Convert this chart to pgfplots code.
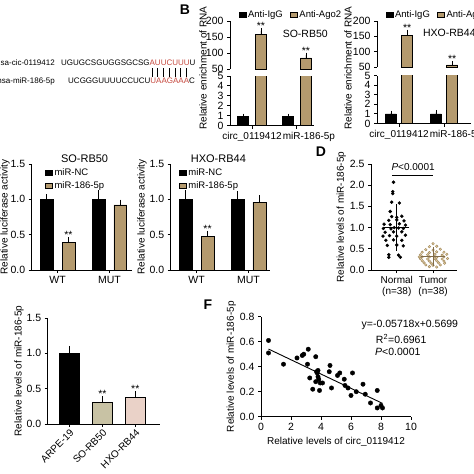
\documentclass[border=0pt]{standalone}
\usepackage{fontspec}
\setmainfont{Liberation Sans}
\usepackage{pgfplots}
\pgfplotsset{compat=1.18}
\definecolor{tanbar}{RGB}{180,154,110}
\definecolor{seqred}{RGB}{198,72,62}
\definecolor{khakibar}{RGB}{200,194,164}
\definecolor{pinkbar}{RGB}{234,210,200}
\definecolor{tumorfill}{RGB}{226,206,160}
\definecolor{tumordraw}{RGB}{160,134,90}
\newcommand{\fs}[1]{\fontsize{#1}{#1}\selectfont}
\pgfplotsset{
  base/.style={
    scale only axis, anchor=south west,
    axis x line*=bottom, axis y line*=left,
    axis line style={line width=0.9pt,-},
    every outer x axis line/.append style={-},
    every outer y axis line/.append style={-},
    every tick/.style={black, line width=0.9pt},
    tick align=outside, major tick length=3pt,
    tick label style={font=\fs{10.5}},
    label style={font=\fs{10}},
    /pgf/number format/assume math mode=true,
    clip mode=individual,
  },
  onedec/.style={yticklabel style={/pgf/number format/.cd, fixed, fixed zerofill, precision=1}},
  mybar/.style={ybar, bar shift=0pt, draw=black, line width=0.6pt},
  myerr/.style={error bars/.cd, y dir=plus, y explicit,
     error bar style={line width=0.8pt, black},
     error mark options={line width=0.8pt, mark size=2.5pt, black}},
  sqlegend/.style={legend image code/.code={\draw[##1] (0pt,-2.5pt) rectangle (7pt,2.5pt);}},
}
\newcommand{\stars}[2]{\node[anchor=base, font=\fs{10.5}, inner sep=0pt, yshift=1pt] at (axis cs:#1,#2) {**};}
\begin{document}
\begin{tikzpicture}
\useasboundingbox (0,0) rectangle (474pt,-474pt);
\clip (0,0) rectangle (474pt,-474pt);
\fill[white] (0,0) rectangle (474pt,-474pt);

% ---------------- Panel A ----------------
\node[anchor=east, font=\fs{8}, inner sep=0pt] at (55pt,-62.7pt) {hsa-cic-0119412};
\node[anchor=east, font=\fs{8}, inner sep=0pt] at (55pt,-81pt) {hsa-miR-186-5p};
\node[anchor=west, font=\fs{8}, inner sep=0pt] at (61pt,-62.7pt) {UGUGCSGUGGSGCSG\textcolor{seqred}{AUUCUUU}U};
\node[anchor=west, font=\fs{8}, inner sep=0pt] at (68pt,-81pt) {UCGGGUUUUCCUCU\textcolor{seqred}{UAAGAAA}C};
\foreach \i in {0,...,6} \draw[line width=0.6pt] ({152pt+\i*5.7pt},-68pt) -- ({152pt+\i*5.7pt},-77pt);

% panel letters
\node[font=\bfseries\fs{14}] at (185pt,-10pt) {B};
\node[font=\bfseries\fs{14}] at (321pt,-152pt) {D};
\node[font=\bfseries\fs{14}] at (208pt,-305pt) {F};

% ---------------- Panel B left ----------------
\node[rotate=90, font=\fs{10}] at (203pt,-68pt) {Relative enrichment of RNA};
\begin{axis}[base, sqlegend, at={(230pt,-69pt)}, width=84pt, height=48pt,
  xmin=-0.49, xmax=1.38, ymin=50, ymax=200, ytick={50,100,150,200},
  axis x line=none,
  legend style={draw=none, fill=none, legend columns=2, font=\fs{9.5}, at={(0.1,1.13)}, anchor=west, inner sep=0pt,
    /tikz/every even column/.append style={column sep=5pt}}]
\addlegendimage{fill=black, draw=black}
\addlegendentry{Anti-IgG}
\addplot[mybar, fill=tanbar, bar width=0.245, myerr] coordinates {(0.2,157) +- (0,12) (1.2,85) +- (0,8)};
\addlegendentry{Anti-Ago2}
\stars{0.2}{169}
\stars{1.2}{93}
\node[anchor=west, font=\fs{10.5}, inner sep=0pt] at (axis cs:0.68,160) {SO-RB50};
\end{axis}
\begin{axis}[base, at={(230pt,-125.5pt)}, width=84pt, height=49.5pt,
  xmin=-0.49, xmax=1.38, ymin=0, ymax=5, ytick={0,1,2,3,4,5}, xtick={0,1},
  xticklabel style={font=\fs{10}},
  xticklabels={circ\_0119412,\hspace*{24pt}miR-186-5p}]
\addplot[mybar, fill=black, bar width=0.245, myerr] coordinates {(-0.2,0.9) +- (0,0.05) (0.8,0.9) +- (0,0.05)};
\addplot[mybar, fill=tanbar, bar width=0.245] coordinates {(0.2,157) (1.2,85)};
\end{axis}

% ---------------- Panel B right ----------------
\node[rotate=90, font=\fs{10}] at (348pt,-68pt) {Relative enrichment of RNA};
\begin{axis}[base, sqlegend, at={(377pt,-67pt)}, width=94pt, height=46pt,
  xmin=-0.49, xmax=1.6, ymin=50, ymax=200, ytick={50,100,150,200},
  axis x line=none,
  legend style={draw=none, fill=none, legend columns=2, font=\fs{9.5}, at={(0.09,1.13)}, anchor=west, inner sep=0pt,
    /tikz/every even column/.append style={column sep=5pt}}]
\addlegendimage{fill=black, draw=black}
\addlegendentry{Anti-IgG}
\addplot[mybar, fill=tanbar, bar width=0.245, myerr] coordinates {(0.18,152) +- (0,12) (1.18,57) +- (0,4)};
\addlegendentry{Anti-Ago2}
\stars{0.18}{164}
\stars{1.18}{61}
\node[anchor=west, font=\fs{10.5}, inner sep=0pt] at (axis cs:0.53,160) {HXO-RB44};
\end{axis}
\begin{axis}[base, at={(377pt,-123.5pt)}, width=94pt, height=48pt,
  xmin=-0.49, xmax=1.6, ymin=0, ymax=5, ytick={0,1,2,3,4,5}, xtick={0,1},
  xticklabel style={font=\fs{10}},
  xticklabels={circ\_0119412,\hspace*{24pt}miR-186-5p}]
\addplot[mybar, fill=black, bar width=0.245, myerr] coordinates {(-0.18,1.0) +- (0,0.08) (0.82,1.0) +- (0,0.15)};
\addplot[mybar, fill=tanbar, bar width=0.245] coordinates {(0.18,152) (1.18,57)};
\end{axis}

% ---------------- Panel C left ----------------
\begin{axis}[base, onedec, sqlegend, at={(31.7pt,-270pt)}, width=100pt, height=106pt,
  xmin=-0.5, xmax=1.43, ymin=0, ymax=1.5, ytick={0,0.5,1,1.5}, xtick={0,1}, xticklabels={WT,MUT},
  ylabel={Relative luciferase activity}, ylabel shift=-6pt,
  legend style={draw=none, fill=none, font=\fs{9.5}, at={(0.13,0.98)}, anchor=north west, inner sep=0pt,
    legend cell align=left, row sep=1pt}]
\addplot[mybar, fill=black, bar width=0.25, myerr] coordinates {(-0.21,1.0) +- (0,0.04) (0.79,1.0) +- (0,0.09)};
\addlegendentry{miR-NC}
\addplot[mybar, fill=tanbar, bar width=0.25, myerr] coordinates {(0.21,0.39) +- (0,0.04) (1.21,0.92) +- (0,0.04)};
\addlegendentry{miR-186-5p}
\stars{0.21}{0.43}
\node[font=\fs{11}] at (axis cs:0.52,1.58) {SO-RB50};
\end{axis}

% ---------------- Panel C right ----------------
\begin{axis}[base, onedec, sqlegend, at={(170.7pt,-270pt)}, width=99pt, height=106pt,
  xmin=-0.5, xmax=1.41, ymin=0, ymax=1.5, ytick={0,0.5,1,1.5}, xtick={0,1}, xticklabels={WT,MUT},
  ylabel={Relative luciferase activity}, ylabel shift=-4pt,
  legend style={draw=none, fill=none, font=\fs{9.5}, at={(0.08,0.98)}, anchor=north west, inner sep=0pt,
    legend cell align=left, row sep=1pt}]
\addplot[mybar, fill=black, bar width=0.25, myerr] coordinates {(-0.21,1.0) +- (0,0.09) (0.79,1.0) +- (0,0.08)};
\addlegendentry{miR-NC}
\addplot[mybar, fill=tanbar, bar width=0.25, myerr] coordinates {(0.21,0.47) +- (0,0.05) (1.21,0.96) +- (0,0.06)};
\addlegendentry{miR-186-5p}
\stars{0.21}{0.52}
\node[font=\fs{11}] at (axis cs:0.42,1.58) {HXO-RB44};
\end{axis}

% ---------------- Panel D ----------------
\begin{axis}[base, onedec, at={(371pt,-270pt)}, width=86pt, height=106pt,
  xmin=0.29, xmax=2.66, ymin=0, ymax=2.5, ytick={0,0.5,1,1.5,2,2.5}, xtick={1,2},
  xticklabels={Normal\\(n=38),Tumor\\(n=38)},
  xticklabel style={align=center, font=\fontsize{10}{11}\selectfont},
  ylabel={Relative levels of miR-186-5p}, ylabel shift=-3pt]
\addplot[only marks, mark=*, mark size=1.5pt, black] coordinates {
 (0.91,2.07) (0.89,1.85) (0.89,1.80) (0.86,1.60) (1.07,1.58) (0.82,1.38)
 (0.86,1.26) (1.00,1.24) (1.14,1.27) (0.78,1.17) (1.00,1.18) (1.20,1.16)
 (0.65,1.08) (0.82,1.07) (1.07,1.09) (1.24,1.06)
 (0.63,0.98) (0.84,0.97) (0.93,1.00) (1.05,0.99) (1.18,0.98)
 (0.68,0.89) (0.91,0.90) (1.14,0.90)
 (0.62,0.80) (0.80,0.81) (1.00,0.80) (1.24,0.82)
 (0.70,0.70) (0.91,0.71) (1.14,0.70)
 (0.74,0.58) (1.00,0.59) (1.18,0.57)
 (0.78,0.36) (1.05,0.35) (0.78,0.30) (1.10,0.30)};
\addplot[only marks, mark=*, mark size=1.3pt, draw=tumordraw, fill=tumorfill, line width=0.4pt] coordinates {
 (2.00,0.62) (1.90,0.55) (2.10,0.56) (1.80,0.48) (2.00,0.47) (2.20,0.49)
 (1.70,0.42) (1.90,0.41) (2.10,0.43) (2.30,0.42)
 (1.65,0.36) (1.85,0.36) (2.05,0.37) (2.25,0.35)
 (1.70,0.31) (1.90,0.31) (2.10,0.30) (2.30,0.31)
 (1.65,0.27) (1.85,0.26) (2.05,0.27) (2.25,0.26) (2.40,0.27)
 (1.70,0.22) (1.90,0.21) (2.10,0.22) (2.30,0.21)
 (1.75,0.17) (1.95,0.16) (2.15,0.17) (2.32,0.16)
 (1.80,0.12) (2.00,0.11) (2.20,0.12)
 (1.90,0.08) (2.10,0.07) (1.62,0.31) (2.38,0.37)};
\addplot[only marks, mark=-, mark size=12.5pt, mark options={line width=0.9pt}, black,
  error bars/.cd, y dir=both, y explicit, error bar style={line width=0.9pt, black},
  error mark options={mark size=4.5pt, line width=0.9pt, black}] coordinates {(1,1.0) +- (0,0.44)};
\addplot[only marks, mark=-, mark size=12pt, mark options={line width=0.9pt}, tumordraw!80!black,
  error bars/.cd, y dir=both, y explicit, error bar style={line width=0.9pt, tumordraw!80!black},
  error mark options={mark size=4pt, line width=0.9pt, tumordraw!80!black}] coordinates {(2,0.32) +- (0,0.12)};
\draw[line width=0.8pt] (axis cs:0.87,2.22) -- (axis cs:2.0,2.22);
\node[font=\fs{10}] at (axis cs:1.45,2.43) {\textit{P}<0.0001};
\end{axis}

% ---------------- Panel E ----------------
\begin{axis}[base, onedec, at={(47.7pt,-424pt)}, width=112pt, height=106pt,
  xmin=-0.66, xmax=2.74, ymin=0, ymax=1.5, ytick={0,0.5,1,1.5}, xtick={0,1,2},
  xticklabels={ARPE-19,SO-RB50,HXO-RB44},
  xticklabel style={rotate=45, anchor=north east, inner sep=1pt, font=\fs{10}},
  ylabel={Relative levels of miR-186-5p}, ylabel shift=-4pt]
\addplot[mybar, fill=black, bar width=0.61, myerr] coordinates {(0,1.0) +- (0,0.07)};
\addplot[mybar, fill=khakibar, bar width=0.61, myerr] coordinates {(1,0.31) +- (0,0.045)};
\addplot[mybar, fill=pinkbar, bar width=0.61, myerr] coordinates {(2,0.38) +- (0,0.045)};
\stars{1}{0.355}
\stars{2}{0.425}
\end{axis}

% ---------------- Panel F ----------------
\begin{axis}[base, onedec, at={(261pt,-416.7pt)}, width=150pt, height=100pt,
  xmin=0, xmax=10, ymin=0, ymax=0.8, xtick={0,2,4,6,8,10}, ytick={0,0.2,0.4,0.6,0.8},
  xlabel={Relative levels of circ\_0119412},
  ylabel={Relative levels of miR-186-5p}, ylabel shift=-3pt]
\addplot[only marks, mark=*, mark size=2.2pt, black] coordinates {
 (0.5,0.61) (0.5,0.51) (1.5,0.42) (2.4,0.47) (2.75,0.49) (2.85,0.50) (3.15,0.54)
 (3.1,0.42) (3.25,0.31) (3.45,0.22) (3.65,0.48) (3.7,0.36) (3.75,0.35) (3.8,0.37)
 (3.65,0.28) (3.85,0.30) (3.9,0.21) (3.95,0.27) (4.1,0.27) (3.8,0.32) (4.7,0.23)
 (4.55,0.36) (4.6,0.41) (5.1,0.33) (5.25,0.35) (5.55,0.30) (5.6,0.25) (5.8,0.23)
 (6.0,0.17) (6.1,0.35) (6.35,0.20) (6.8,0.26) (6.95,0.18) (7.3,0.11) (7.75,0.21)
 (7.75,0.07) (8.0,0.09) (8.1,0.07)};
\addplot[black, line width=0.9pt] coordinates {(0.5,0.5413) (8.1,0.1067)};
\node[anchor=west, font=\fs{10.5}, inner sep=0pt] at (axis cs:6.7,0.734) {y=-0.05718x+0.5699};
\node[anchor=west, font=\fs{10.5}, inner sep=0pt] at (axis cs:7.65,0.622) {R\textsuperscript{2}=0.6961};
\node[anchor=west, font=\fs{10.5}, inner sep=0pt] at (axis cs:7.6,0.517) {\textit{P}<0.0001};
\end{axis}
\end{tikzpicture}
\end{document}
